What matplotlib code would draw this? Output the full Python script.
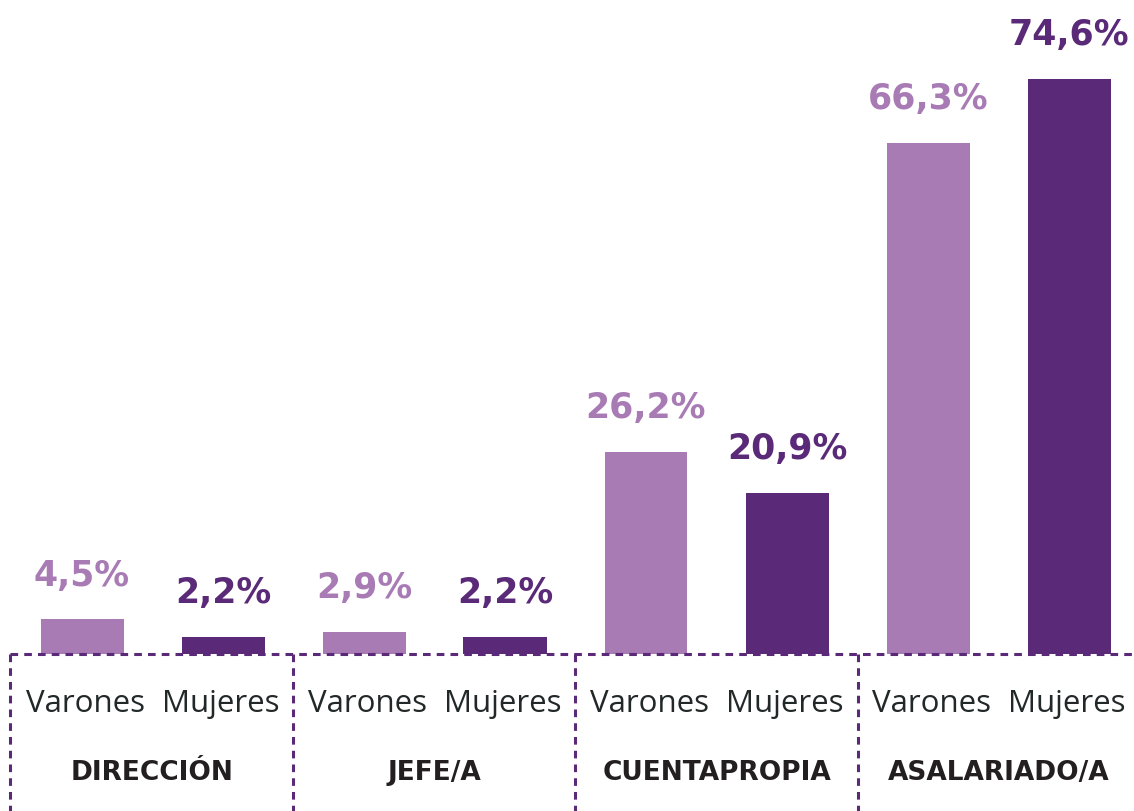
import matplotlib
matplotlib.use("Agg")
import matplotlib.pyplot as plt
from matplotlib.lines import Line2D

categories = ["DIRECCIÓN", "JEFE/A", "CUENTAPROPIA", "ASALARIADO/A"]
series_names = ["Varones", "Mujeres"]
varones = [4.5, 2.9, 26.2, 66.3]
mujeres = [2.2, 2.2, 20.9, 74.6]

light = "#a87bb5"
dark = "#5a2a79"
W, H = 1134, 812
fig = plt.figure(figsize=(W / 100, H / 100), dpi=100)

base_px = 655
ax = fig.add_axes([0, (H - base_px) / H, 1, base_px / H])
step = 141.0
x0 = 82.0
ax.set_xlim(-x0 / step, (W - x0) / step)
ax.set_ylim(0, base_px / 7.71)
ax.axis("off")

font = "Open Sans"
bold_font = "DejaVu Sans"
bw = 83 / step
name_shift = [3, -2]
for g in range(len(categories)):
    for k, (vals, col) in enumerate([(varones, light), (mujeres, dark)]):
        x = 2 * g + k
        v = vals[g]
        ax.bar(x, v, width=bw, color=col)
        ax.annotate(f"{v:.1f}%".replace(".", ","), (x, v), xytext=(0, 25),
                    textcoords="offset points", ha="center", va="baseline",
                    fontsize=25, fontweight="bold", color=col, family=bold_font)
        fig.text((x0 + step * x + name_shift[k]) / W, 1 - 704 / H, series_names[k],
                 ha="center", va="center", fontsize=22.5, color="#222828", family=font)
    cx = (x0 + step * (2 * g + 0.5)) / W
    fig.text(cx, 1 - 773 / H, categories[g], ha="center", va="center",
             fontsize=19, fontweight="bold", color="#231f20", family=bold_font)

ls = dict(color=dark, lw=2.2, linestyle=(0, (2.5, 2.0)))
fig.add_artist(Line2D([10 / W, 1], [1 - base_px / H] * 2, transform=fig.transFigure, **ls))
for xp in [10, 293, 575, 858]:
    fig.add_artist(Line2D([xp / W] * 2, [1 - base_px / H, 0], transform=fig.transFigure, **ls))

fig.savefig("out.png", dpi=100)
